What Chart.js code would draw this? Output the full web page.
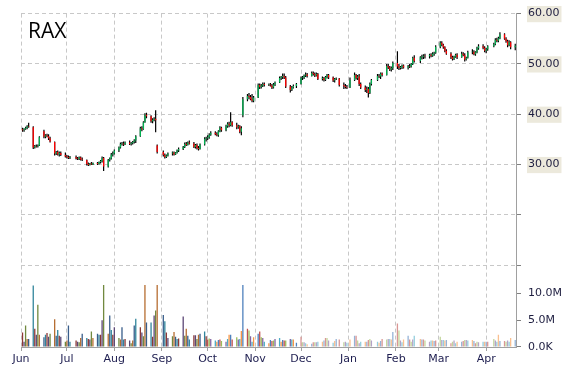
<!DOCTYPE html>
<html>
<head>
<meta charset="utf-8">
<script src="https://cdn.jsdelivr.net/npm/chart.js@4.4.1/dist/chart.umd.min.js"></script>
<style>
  html, body { margin: 0; padding: 0; background: #fff; }
  #wrap { width: 570px; height: 370px; }
</style>
</head>
<body>
<div id="wrap"><canvas id="chart" width="570" height="370"></canvas></div>
<script>
// RAX daily prices, Jun 2014 - Apr 2015
const symbol = 'RAX';
const months = ['Jun', 'Jul', 'Aug', 'Sep', 'Oct', 'Nov', 'Dec', 'Jan', 'Feb', 'Mar', 'Apr'];
// day offset of the 1st of each month, counted from Jun 1
const monthStart = [0, 30, 61, 92, 122, 153, 183, 214, 245, 273, 304];
const tradingDays = [
  [2,3,4,5,6,9,10,11,12,13,16,17,18,19,20,23,24,25,26,27,30],
  [1,2,3,7,8,9,10,11,14,15,16,17,18,21,22,23,24,25,28,29,30,31],
  [1,4,5,6,7,8,11,12,13,14,15,18,19,20,21,22,25,26,27,28,29],
  [2,3,4,5,8,9,10,11,12,15,16,17,18,19,22,23,24,25,26,29,30],
  [1,2,3,6,7,8,9,10,13,14,15,16,17,20,21,22,23,24,27,28,29,30,31],
  [3,4,5,6,7,10,11,12,13,14,17,18,19,20,21,24,25,26,28],
  [1,2,3,4,5,8,9,10,11,12,15,16,17,18,19,22,23,24,26,29,30,31],
  [2,5,6,7,8,9,12,13,14,15,16,20,21,22,23,26,27,28,29,30],
  [2,3,4,5,6,9,10,11,12,13,17,18,19,20,23,24,25,26,27],
  [2,3,4,5,6,9,10,11,12,13,16,17,18,19,20,23,24,25,26,27,30,31],
  [1,2,6,7,8,9,10,13,14,15,16,17,20]
];

const opens = [
  37.0,36.8,37.1,37.3,37.6,37.4,33.4,33.7,33.6,33.8,36.6,35.5,35.8,35.6,35.2,34.5,32.2,32.5,32.0,32.3,31.9,
  31.6,31.5,31.3,31.5,31.2,31.1,31.4,31.0,30.9,30.1,29.9,30.2,30.0,30.3,30.1,30.5,30.7,31.3,29.6,30.9,31.2,32.0,
  32.2,32.8,33.4,34.1,34.2,34.0,34.4,34.1,34.3,34.5,34.8,35.6,37.2,37.0,38.4,39.9,39.6,38.6,38.9,39.1,33.8,
  32.5,31.9,31.5,31.8,32.2,32.4,32.0,32.4,32.8,33.1,33.5,34.1,33.9,34.4,34.2,33.5,33.9,33.3,33.1,34.0,35.1,
  35.2,35.4,35.9,36.3,36.0,35.8,36.6,37.3,36.8,37.6,38.1,37.8,38.4,37.8,37.4,37.6,36.5,39.8,43.0,43.6,43.4,43.0,42.7,
  43.3,45.8,45.4,45.7,46.0,45.8,45.9,45.7,45.3,45.9,46.3,47.2,47.4,47.6,47.3,45.5,44.8,45.3,45.6,
  46.0,47.2,47.3,47.7,47.9,47.6,48.2,48.0,47.7,48.0,47.0,47.2,46.8,47.4,47.8,47.3,46.7,47.0,47.1,45.8,45.6,45.4,
  45.3,46.8,47.8,47.2,47.5,46.0,45.3,44.8,45.0,44.2,46.0,46.8,47.6,47.5,48.1,47.8,49.6,49.3,48.9,49.2,
  50.2,49.5,49.2,49.4,49.7,49.3,49.6,49.5,50.0,51.2,50.6,51.3,51.4,51.6,51.5,51.8,51.6,52.0,52.2,
  53.4,54.2,53.8,53.3,52.6,52.0,51.3,51.0,51.4,51.8,51.3,52.0,51.7,50.9,51.2,52.3,52.4,51.9,52.3,53.1,53.5,53.2,
  52.6,52.9,53.5,53.9,54.8,54.6,55.1,55.9,55.0,54.5,53.7,54.3,53.3
];
const highs = [
  37.3,37.2,37.5,37.8,38.3,37.6,33.9,34.0,34.0,35.6,36.9,36.0,36.1,36.0,35.5,34.6,32.7,32.8,32.6,32.6,32.4,
  31.9,31.8,31.7,31.8,31.5,31.6,31.6,31.4,31.0,30.4,30.3,30.5,30.4,30.5,30.6,30.9,31.6,31.5,31.1,31.4,32.3,32.6,
  33.0,33.6,34.4,34.5,34.6,34.6,34.8,34.5,34.7,35.0,35.8,37.5,37.6,38.6,40.2,40.3,39.8,39.2,39.4,40.8,34.0,
  32.8,32.2,32.0,32.4,32.6,32.6,32.5,33.0,33.4,33.7,34.4,34.5,34.6,34.8,34.5,34.1,34.2,33.7,34.2,35.4,35.5,
  35.8,36.2,36.6,36.6,36.4,36.8,37.6,37.5,37.9,38.4,38.5,40.4,38.6,38.3,37.9,37.8,37.6,43.4,44.0,44.2,43.8,44.0,43.6,
  46.1,46.1,46.0,46.3,46.3,46.1,46.2,46.0,46.2,46.5,47.5,47.6,48.1,48.1,47.6,45.8,45.6,45.9,46.2,
  47.5,47.6,47.9,48.3,48.2,48.5,48.5,48.3,48.3,48.2,47.5,47.4,47.6,48.0,48.0,47.5,47.2,47.3,47.2,46.3,46.0,45.8,
  47.3,48.3,48.0,47.8,48.0,46.3,45.7,45.5,45.4,46.3,47.0,48.0,48.0,48.3,48.3,50.0,50.0,49.6,49.5,50.5,
  52.5,50.0,49.6,49.9,49.9,49.8,50.0,50.2,51.4,51.7,51.5,51.8,51.9,52.0,52.0,52.1,52.3,52.4,53.7,
  54.5,54.5,54.0,53.5,52.9,52.3,51.6,51.6,52.0,52.1,52.4,52.3,52.1,51.4,52.6,52.9,52.7,52.5,53.4,53.9,53.9,53.5,
  53.2,53.7,54.2,55.1,55.2,55.4,56.3,56.1,55.3,54.8,54.7,54.5,54.0
];
const lows = [
  36.5,36.5,36.9,37.0,37.3,33.1,33.2,33.4,33.4,33.7,35.2,35.2,35.4,34.9,34.4,31.8,31.9,31.8,31.6,31.7,31.4,
  31.2,31.1,31.1,31.0,30.9,30.9,30.8,30.7,29.8,29.7,29.8,29.9,29.9,29.9,30.0,30.2,30.4,28.7,29.4,30.6,31.0,31.6,
  32.0,32.5,33.2,33.8,33.7,33.9,33.9,33.8,34.0,34.2,34.3,35.5,36.6,36.9,38.3,39.2,38.3,38.2,38.6,36.4,32.2,
  31.6,31.2,31.3,31.6,31.8,31.8,31.9,32.2,32.5,32.9,33.3,33.7,33.8,34.0,33.3,33.2,33.0,32.8,33.0,33.8,34.6,
  34.9,35.1,35.7,35.8,35.6,35.5,36.4,36.5,36.6,37.3,37.4,37.6,37.5,37.0,37.1,36.2,35.8,39.4,42.6,43.0,42.8,42.4,42.4,
  43.2,45.0,45.1,45.4,45.5,45.6,45.5,45.0,45.1,45.6,46.2,46.8,47.0,47.0,45.2,44.3,44.6,45.1,45.2,
  45.9,46.8,47.0,47.4,47.3,47.5,47.7,47.4,47.5,46.8,46.7,46.5,46.6,47.1,47.0,46.4,46.3,46.8,45.5,45.0,45.1,45.0,
  45.2,46.6,46.9,46.8,45.6,45.0,44.4,44.2,43.3,44.0,45.7,46.6,47.2,47.0,47.5,47.7,49.0,48.6,48.5,48.8,
  49.0,48.8,48.9,49.0,49.1,48.9,49.2,49.3,49.8,50.3,50.2,50.9,51.0,51.1,51.1,51.3,51.4,51.6,52.0,
  53.1,53.5,53.0,52.3,51.8,51.0,50.7,50.8,51.2,51.0,51.2,51.5,50.5,50.7,51.1,51.9,51.7,51.6,52.1,52.8,52.9,52.3,
  52.1,52.6,53.3,53.7,54.3,54.3,54.9,54.8,54.2,53.3,53.5,52.9,52.7
];
const closes = [
  36.8,37.1,37.3,37.6,37.5,33.4,33.7,33.6,33.8,35.4,35.5,35.8,35.6,35.2,34.6,32.2,32.5,32.0,32.3,31.9,31.6,
  31.5,31.3,31.5,31.2,31.1,31.4,31.0,30.9,30.1,29.9,30.2,30.0,30.3,30.1,30.5,30.7,31.3,29.6,30.9,31.2,32.0,32.2,
  32.8,33.4,34.1,34.2,34.0,34.4,34.1,34.3,34.5,34.8,35.6,37.2,37.0,38.4,39.9,39.6,38.6,38.9,39.1,38.8,32.5,
  31.9,31.5,31.8,32.2,32.4,32.0,32.4,32.8,33.1,33.5,34.1,33.9,34.4,34.2,33.5,33.9,33.3,33.1,34.0,35.1,35.2,
  35.4,35.9,36.3,36.0,35.8,36.6,37.3,36.8,37.6,38.1,37.8,38.4,37.8,37.4,37.6,36.5,37.2,43.0,43.6,43.4,43.0,42.7,43.3,
  45.8,45.4,45.7,46.0,45.8,45.9,45.7,45.3,45.9,46.3,47.2,47.4,47.6,47.3,45.5,44.8,45.3,45.6,46.0,
  47.2,47.3,47.7,47.9,47.6,48.2,48.0,47.7,48.0,47.0,47.2,46.8,47.4,47.8,47.3,46.7,47.0,47.1,45.8,45.6,45.4,45.3,
  46.8,47.8,47.2,47.5,46.0,45.3,44.8,45.0,44.2,46.0,46.8,47.6,47.5,48.1,47.8,49.6,49.3,48.9,49.2,50.2,
  49.5,49.2,49.4,49.7,49.3,49.6,49.5,50.0,51.2,50.6,51.3,51.4,51.6,51.5,51.8,51.6,52.0,52.2,53.4,
  54.2,53.8,53.3,52.6,52.0,51.3,51.0,51.4,51.8,51.3,52.0,51.7,50.9,51.2,52.3,52.4,51.9,52.3,53.1,53.5,53.2,52.6,
  52.9,53.5,53.9,54.8,54.6,55.1,55.9,55.0,54.5,53.7,54.3,53.3,53.6
];
// volume in millions
const volumes = [
  2.7,1.0,4.0,1.5,1.5,11.5,3.4,2.3,7.9,2.3,1.8,2.3,2.6,1.9,2.5,5.2,2.1,3.2,2.1,1.9,1.0,
  1.2,4.0,1.0,1.2,1.0,0.9,1.7,2.5,1.7,1.5,1.4,2.9,1.7,2.5,2.3,2.3,5.0,11.6,2.5,5.9,3.2,2.3,
  3.7,1.7,1.4,3.7,1.4,1.5,1.2,0.7,1.2,4.0,5.3,3.7,2.7,2.0,11.6,4.6,4.6,1.9,5.9,6.8,11.6,
  6.0,4.8,2.7,1.7,2.0,2.8,1.9,1.5,1.6,5.7,2.1,3.4,2.1,1.4,2.2,2.2,1.5,2.3,2.5,2.9,2.0,
  1.4,1.6,1.5,1.2,1.0,1.3,1.4,1.1,1.0,1.5,2.3,2.3,1.4,1.8,1.4,1.5,3.0,11.6,3.4,3.1,2.0,1.0,1.8,
  2.5,2.9,1.8,1.7,1.0,0.7,1.3,1.1,1.2,1.5,1.7,1.0,1.3,1.2,1.2,1.5,1.4,1.4,0.8,
  1.9,0.9,0.9,0.7,0.5,0.6,0.9,0.9,0.9,1.0,1.0,1.2,1.7,1.7,1.2,0.8,1.1,1.5,1.4,0.9,1.0,0.8,
  1.4,2.1,2.1,1.2,0.7,1.0,1.0,1.0,1.3,1.5,1.2,1.0,0.8,1.1,1.5,1.4,1.5,1.5,1.4,2.8,
  4.4,3.1,1.2,0.9,1.4,2.1,1.4,1.0,1.4,2.1,1.5,1.4,1.4,1.2,1.0,1.2,1.2,1.1,1.2,
  1.9,1.3,1.3,1.2,1.3,0.7,1.0,1.2,0.7,1.0,1.0,1.1,1.3,1.3,1.2,1.3,1.1,0.7,1.0,0.9,1.0,1.0,
  1.0,1.0,1.5,1.2,1.0,2.3,1.1,1.1,1.0,1.2,1.0,1.7,1.3
];
const priceTicks = [10, 20, 30, 40, 50, 60];
const volumeTicks = [0, 5, 10];

const candleX = [];
tradingDays.forEach((days, m) => {
  days.forEach(d => candleX.push(monthStart[m] + d - 1));
});

const wicks = candleX.map((x, i) => ({x: x, y: [lows[i], highs[i]]}));
const bodies = candleX.map((x, i) => ({x: x, y: [opens[i], closes[i]]}));
const bodyColors = opens.map((o, i) => closes[i] >= o ? '#00b050' : '#ff0000');
const vol = candleX.map((x, i) => ({x: x, y: volumes[i]}));

const volShades = [
  ['#8c3836', '#5c4776', '#71893f', '#b66d31', '#385d8a', '#31859c'],
  ['#4f81bd', '#c0504d', '#9bbb59', '#8064a2', '#4bacc6', '#f79646'],
  ['#95b3d7', '#d99694', '#c3d69b', '#b3a2c7', '#93cddd', '#fac090']
];
const volColors = volumes.map((v, i) => volShades[i < 85 ? 0 : (i < 127 ? 1 : 2)][i % 6]);

const symbolLabel = {
  id: 'symbolLabel',
  afterDraw(chart) {
    const ctx = chart.ctx;
    ctx.save();
    ctx.font = '21px "Open Sans"';
    ctx.fillStyle = '#000';
    ctx.textBaseline = 'alphabetic';
    ctx.fillText(symbol, 28, 38);
    ctx.restore();
  }
};

const tickFont = { family: 'DejaVu Sans', size: 11 };
const gridColor = '#c8c8c8';
const axisColor = '#a0a0a0';

new Chart(document.getElementById('chart'), {
  type: 'bar',
  data: {
    datasets: [
      { data: bodies, backgroundColor: bodyColors, barThickness: 1.3, inflateAmount: 0, grouped: false, yAxisID: 'y', order: 0 },
      { data: wicks, backgroundColor: '#000000', barThickness: 1.2, inflateAmount: 0, grouped: false, yAxisID: 'y', order: 1 },
      { data: vol, backgroundColor: volColors, barThickness: 1.3, inflateAmount: 0, grouped: false, yAxisID: 'yv', order: 2 }
    ]
  },
  options: {
    responsive: false,
    animation: false,
    devicePixelRatio: 1,
    layout: { padding: { left: 21, top: 13, right: 0, bottom: 0 } },
    plugins: { legend: { display: false }, tooltip: { enabled: false } },
    scales: {
      x: {
        type: 'linear',
        min: 0,
        max: 323.5,
        offset: false,
        afterBuildTicks: s => { s.ticks = monthStart.map(v => ({value: v})); },
        afterFit: s => { s.height = 23; },
        grid: { color: gridColor, tickColor: axisColor, tickLength: 4, offset: false },
        border: { color: axisColor, dash: [4, 3] },
        ticks: {
          autoSkip: false, maxRotation: 0, padding: 2,
          color: '#1e1e50', font: tickFont,
          callback: (v, i) => months[i]
        }
      },
      y: {
        position: 'right',
        stack: 'panes',
        stackWeight: 252,
        min: 10,
        max: 60,
        afterBuildTicks: s => { s.ticks = priceTicks.map(v => ({value: v})); },
        afterFit: s => { s.width = 54; },
        grid: { color: gridColor, tickColor: '#808080', tickLength: 5 },
        border: { color: axisColor, dash: [4, 3] },
        ticks: {
          padding: 7,
          color: '#1e1e40', font: tickFont,
          showLabelBackdrop: c => c.tick && c.tick.value >= 30,
          backdropColor: '#ece9dc',
          backdropPadding: { top: 1, bottom: 2, left: 1, right: 2 },
          callback: v => v >= 30 ? v.toFixed(2) : ''
        }
      },
      yv: {
        position: 'right',
        stack: 'panes',
        stackWeight: 82,
        min: 0,
        max: 15.3,
        afterBuildTicks: s => { s.ticks = volumeTicks.map(v => ({value: v})); },
        afterFit: s => { s.width = 54; },
        grid: { drawOnChartArea: false, tickColor: '#808080', tickLength: 5 },
        border: { color: axisColor },
        ticks: {
          padding: 7,
          color: '#1e1e40', font: tickFont,
          callback: v => v === 0 ? '0.0K' : v.toFixed(1) + 'M'
        }
      }
    }
  },
  plugins: [symbolLabel]
});
</script>
</body>
</html>
